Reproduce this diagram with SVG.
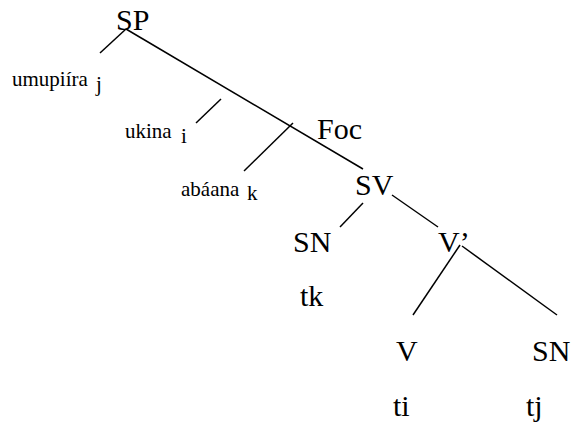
<svg xmlns="http://www.w3.org/2000/svg" width="574" height="423" viewBox="0 0 574 423">
<style>
text{font-family:'Liberation Serif',serif;fill:#000}
.big{font-size:30px}
.small{font-size:21px}
line{stroke:#000;stroke-width:1.5}
</style>
<rect width="574" height="423" fill="#fff"/>
<g id="connectors">
<line x1="126" y1="29" x2="100" y2="53"/>
<line x1="126" y1="29" x2="363" y2="169"/>
<line x1="221" y1="99" x2="196" y2="123"/>
<line x1="293" y1="123" x2="244" y2="171"/>
<line x1="363" y1="203" x2="340" y2="227"/>
<line x1="392" y1="195" x2="438" y2="227"/>
<line x1="460" y1="245" x2="413" y2="315"/>
<line x1="462" y1="246" x2="557" y2="315"/>
</g>
<g id="n-SP"><text class="big" x="116" y="30">SP</text></g>
<g id="n-umupiira"><text class="small" x="12" y="86">umupiíra</text><text class="small" x="96" y="91">j</text></g>
<g id="n-ukina"><text class="small" x="125" y="138">ukina</text><text class="small" x="181" y="143">i</text></g>
<g id="n-abaana"><text class="small" x="181" y="196">abáana</text><text class="small" x="247" y="200">k</text></g>
<g id="n-Foc"><text class="big" x="317" y="139">Foc</text></g>
<g id="n-SV"><text class="big" x="355" y="195">SV</text></g>
<g id="n-SN1"><text class="big" x="293" y="252">SN</text></g>
<g id="n-Vbar"><text class="big" x="438" y="252">V’</text></g>
<g id="n-tk"><text class="big" x="300" y="306">tk</text></g>
<g id="n-V"><text class="big" x="396" y="361">V</text></g>
<g id="n-SN2"><text class="big" x="532" y="361">SN</text></g>
<g id="n-ti"><text class="big" x="393" y="416">ti</text></g>
<g id="n-tj"><text class="big" x="526" y="416">tj</text></g>
</svg>
